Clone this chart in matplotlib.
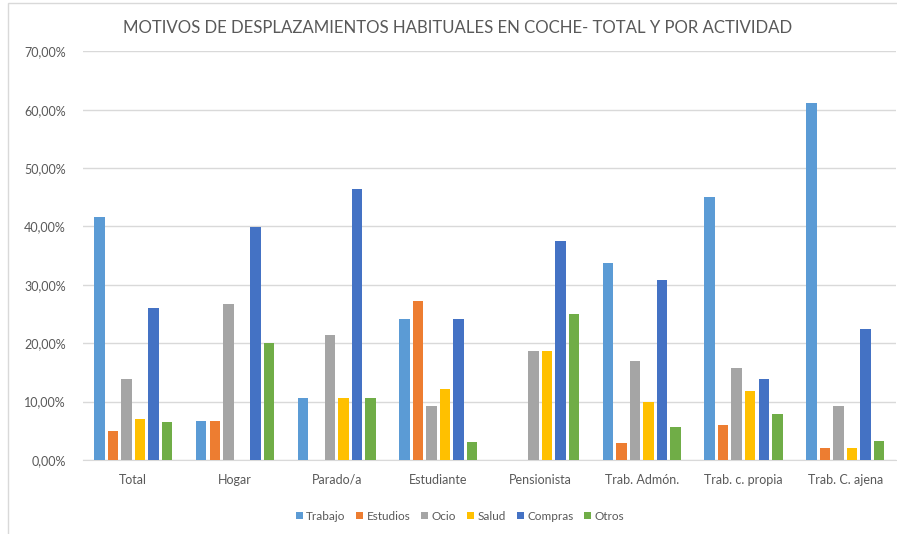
import numpy as np
import matplotlib
matplotlib.use("Agg")
import matplotlib.pyplot as plt
from matplotlib.ticker import FuncFormatter
from matplotlib.patches import Rectangle

plt.rcParams['font.family'] = ['Lato', 'DejaVu Sans']

categorias = ["Total", "Hogar", "Parado/a", "Estudiante", "Pensionista",
              "Trab. Admón.", "Trab. c. propia", "Trab. C. ajena"]

trabajo  = [41.7,  6.7, 10.7, 24.1,  0.0, 33.8, 45.0, 61.1]
estudios = [ 4.9,  6.7,  0.0, 27.3,  0.0,  2.9,  6.0,  2.0]
ocio     = [13.9, 26.7, 21.4,  9.2, 18.7, 17.0, 15.8,  9.3]
salud    = [ 7.0,  0.0, 10.7, 12.2, 18.7,  9.9, 11.8,  2.0]
compras  = [26.1, 39.9, 46.4, 24.1, 37.5, 30.9, 13.9, 22.4]
otros    = [ 6.5, 20.0, 10.7,  3.1, 25.0,  5.7,  7.9,  3.3]

series = [("Trabajo", trabajo, "#5B9BD5"),
          ("Estudios", estudios, "#ED7D31"),
          ("Ocio", ocio, "#A5A5A5"),
          ("Salud", salud, "#FFC000"),
          ("Compras", compras, "#4472C4"),
          ("Otros", otros, "#70AD47")]

fig = plt.figure(figsize=(8.97, 5.34), dpi=100)
W, H = 897, 534
ax = fig.add_axes([82.5 / W, 1 - 460 / H, (896 - 82.5) / W, (460 - 51.3) / H])

# marco exterior del grafico
fig.patches.append(Rectangle((7.5 / W, -0.1), 1.2, 1 - 3 / H + 0.1,
                             transform=fig.transFigure, fill=False,
                             edgecolor="#D9D9D9", linewidth=1.0))

x = np.arange(len(categorias))
paso = 0.133
ancho = 0.103
for i, (nombre, vals, color) in enumerate(series):
    ax.bar(x + (i - 2.5) * paso, vals, width=ancho, color=color, label=nombre, zorder=3)

ax.set_xlim(-0.5, len(categorias) - 0.5)
ax.set_ylim(0, 70)
ax.set_yticks(np.arange(0, 71, 10))
ax.yaxis.set_major_formatter(FuncFormatter(lambda v, p: f"{v:.2f}%".replace(".", ",")))
ax.set_xticks(x)
ax.set_xticklabels(categorias)
ax.grid(axis="y", color="#D9D9D9", linewidth=1.0, zorder=0)
for s in ["top", "right", "left"]:
    ax.spines[s].set_visible(False)
ax.spines["bottom"].set_color("#D9D9D9")
ax.tick_params(axis="both", length=0, colors="#595959", labelsize=9)
ax.tick_params(axis="x", pad=10)
ax.tick_params(axis="y", pad=12)

fig.text(458 / W, 1 - 28 / H, "MOTIVOS DE DESPLAZAMIENTOS HABITUALES EN COCHE- TOTAL Y POR ACTIVIDAD",
         ha="center", va="center", fontsize=12.1, color="#595959")

fig.legend(loc="center", bbox_to_anchor=(460 / W, 1 - 516 / H), ncol=6, frameon=False,
           fontsize=8.5, handlelength=0.6, handleheight=0.6, handletextpad=0.3,
           columnspacing=0.9, labelcolor="#595959")

fig.savefig("out.png", dpi=100)
